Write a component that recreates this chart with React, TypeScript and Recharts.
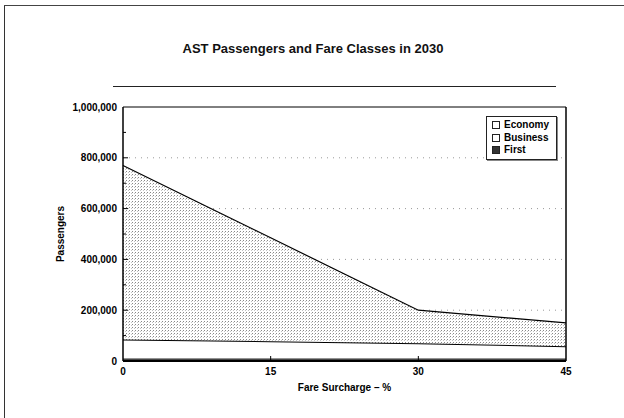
import React from "react";
import {
  Area,
  AreaChart,
  CartesianGrid,
  Legend,
  ReferenceLine,
  XAxis,
  YAxis,
} from "recharts";

const surcharges = [0, 15, 30, 45];
const firstClass = [10000, 10000, 10000, 10000];
const businessClass = [75000, 68000, 60000, 48000];
const economyClass = [685000, 407000, 130000, 92000];

const xTicks = [0, 15, 30, 45];
const yTicks = [0, 100000, 200000, 300000, 400000, 500000, 600000, 700000, 800000, 900000, 1000000];
const gridValues = [200000, 400000, 600000, 800000];
const legendNames = ["Economy", "Business", "First"];

const data = surcharges.map((s, i) => ({
  surcharge: s,
  First: firstClass[i],
  Business: businessClass[i],
  Economy: economyClass[i],
}));

const font = '"Liberation Sans", Arial, Helvetica, sans-serif';

function YTick(props: any) {
  const { x, y, payload } = props;
  const v = payload.value as number;
  const major = v % 200000 === 0;
  return (
    <g>
      {v > 0 && v < 1000000 && (
        <line x1={x + 6} x2={x + 6 + (major ? 5 : 3)} y1={y} y2={y} stroke="#000" />
      )}
      {major && (
        <text x={x} y={y} dy="0.35em" textAnchor="end" fontSize={10} fontWeight="bold" fill="#000" fontFamily={font}>
          {v.toLocaleString("en-US")}
        </text>
      )}
    </g>
  );
}

function XTick(props: any) {
  const { x, y, payload } = props;
  const v = payload.value as number;
  return (
    <g>
      {v > 0 && v < 45 && <line x1={x} x2={x} y1={y - 7} y2={y - 12} stroke="#000" />}
      <text x={x} y={y} dy="0.71em" textAnchor="middle" fontSize={10} fontWeight="bold" fill="#000" fontFamily={font}>
        {v}
      </text>
    </g>
  );
}

function LegendBox() {
  return (
    <div
      style={{
        border: "1px solid #222",
        padding: "2px 4px 2px 5px",
        background: "#fff",
        fontFamily: font,
        fontSize: 10,
        fontWeight: "bold",
        lineHeight: "12.5px",
        color: "#000",
        boxShadow: "1px 1px 0 #888",
        textAlign: "left",
      }}
    >
      {legendNames.map((n) => (
        <div key={n} style={{ display: "flex", alignItems: "center" }}>
          <span
            style={{
              display: "inline-block",
              width: 6,
              height: 6,
              border: "1px solid #222",
              background: n === "First" ? "#333" : "#fff",
              marginRight: 4,
            }}
          />
          {n}
        </div>
      ))}
    </div>
  );
}

export default function App() {
  return (
    <div
      style={{
        position: "absolute",
        left: 0,
        top: 0,
        width: 624,
        height: 418,
        background: "#fff",
        fontFamily: font,
      }}
    >
      <div style={{ position: "absolute", left: 4, top: 5, width: 1, height: 413, background: "#333" }} />
      <div style={{ position: "absolute", left: 4, top: 5, width: 620, height: 1, background: "#444" }} />
      <div
        style={{
          position: "absolute",
          left: 0,
          top: 41,
          width: 626,
          textAlign: "center",
          fontSize: 13,
          fontWeight: "bold",
          color: "#111",
        }}
      >
        AST Passengers and Fare Classes in 2030
      </div>
      <div style={{ position: "absolute", left: 113, top: 86, width: 443, height: 1, background: "#222" }} />
      <AreaChart
        width={624}
        height={418}
        data={data}
        margin={{ top: 107, right: 58, left: 63, bottom: 27 }}
      >
        <defs>
          <pattern id="stipple" width="3" height="3" patternUnits="userSpaceOnUse">
            <rect width="3" height="3" fill="#fff" />
            <rect x="0" y="0" width="1" height="1" fill="#888" />
            <rect x="2" y="1" width="1" height="1" fill="#c4c4c4" />
          </pattern>
        </defs>
        <CartesianGrid
          vertical={false}
          horizontalValues={gridValues}
          stroke="#999"
          strokeDasharray="1 5"
        />
        <XAxis
          dataKey="surcharge"
          type="number"
          domain={[0, 45]}
          ticks={xTicks}
          height={30}
          tickSize={0}
          tickMargin={7}
          tickLine={false}
          axisLine={{ stroke: "#000", strokeWidth: 2 }}
          tick={<XTick />}
          label={{
            value: "Fare Surcharge \u2013 %",
            position: "insideBottom",
            offset: 0,
            fontSize: 10,
            fontWeight: "bold",
            fill: "#000",
            fontFamily: font,
          }}
        />
        <YAxis
          type="number"
          domain={[0, 1000000]}
          ticks={yTicks}
          width={60}
          tickSize={0}
          tickMargin={6}
          tickLine={false}
          interval={0}
          axisLine={{ stroke: "#000", strokeWidth: 1.5 }}
          tick={<YTick />}
          label={{
            value: "Passengers",
            angle: -90,
            position: "insideLeft",
            offset: -3,
            style: { textAnchor: "middle" },
            fontSize: 10,
            fontWeight: "bold",
            fill: "#000",
            fontFamily: font,
          }}
        />
        <Area
          type="linear"
          dataKey="First"
          stackId="a"
          stroke="#222"
          strokeWidth={1}
          fill="#444"
          fillOpacity={1}
          isAnimationActive={false}
        />
        <Area
          type="linear"
          dataKey="Business"
          stackId="a"
          stroke="#000"
          strokeWidth={2}
          fill="#fff"
          fillOpacity={1}
          isAnimationActive={false}
        />
        <Area
          type="linear"
          dataKey="Economy"
          stackId="a"
          stroke="#000"
          strokeWidth={1.2}
          fill="url(#stipple)"
          fillOpacity={1}
          isAnimationActive={false}
        />
        <ReferenceLine y={1000000} stroke="#000" strokeWidth={1} />
        <ReferenceLine x={45} stroke="#000" strokeWidth={1.5} />
        <Legend
          layout="horizontal"
          verticalAlign="middle"
          align="center"
          content={<LegendBox />}
          wrapperStyle={{ position: "absolute", left: 486, top: 116, width: 71 }}
        />
      </AreaChart>
    </div>
  );
}
